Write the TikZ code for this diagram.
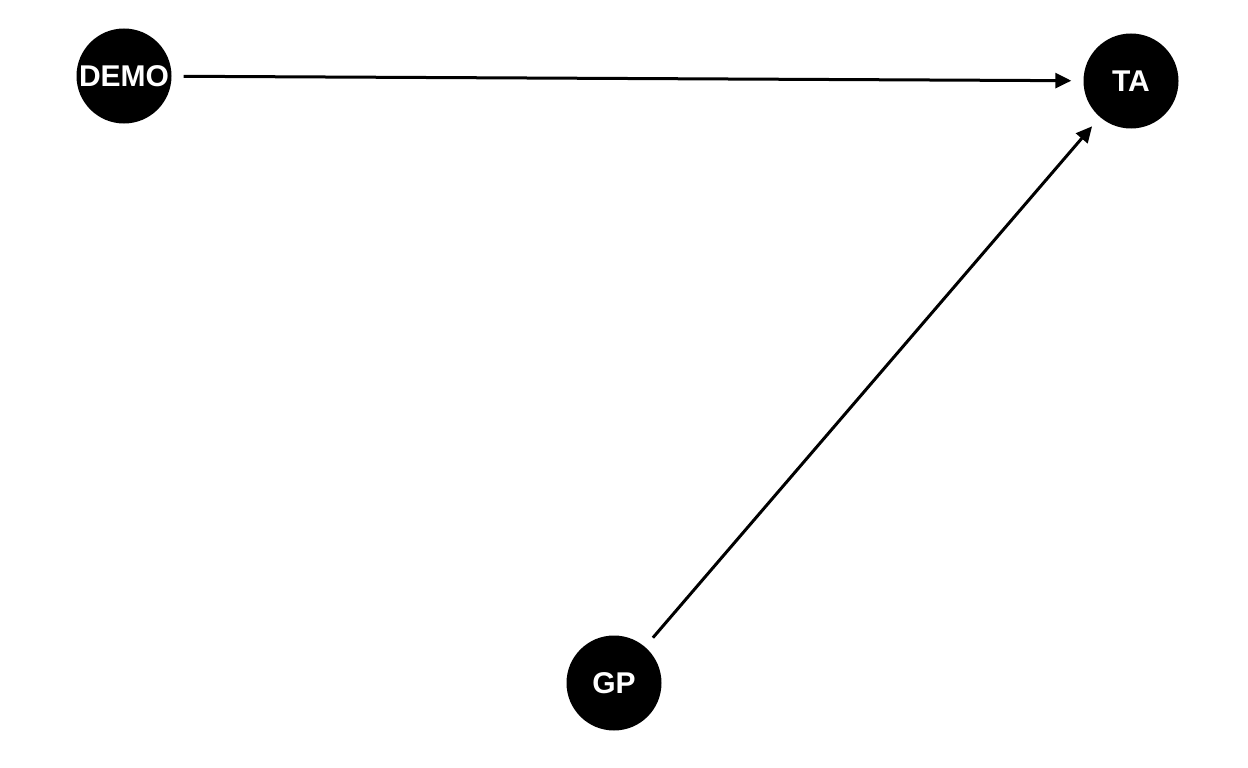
\documentclass[tikz,border=0pt]{standalone}
\usepackage{fontspec}
\setmainfont{Liberation Sans}
\usetikzlibrary{arrows.meta}
\begin{document}
\begin{tikzpicture}[x=1pt,y=-1pt,
  vnode/.style={circle,fill=black,minimum size=95pt,inner sep=0pt,text=white,font=\fontsize{30}{30}\selectfont\bfseries},
  edge/.style={line width=3pt,-{Triangle[length=16pt,width=15pt]},shorten >=12pt,shorten <=12pt}]
\useasboundingbox (0,0) rectangle (1248,768);
\node[vnode] (demo) at (124,76) {DEMO};
\node[vnode] (ta) at (1131,81) {TA};
\node[vnode] (gp) at (614,683) {GP};
\draw[edge] (demo) -- (ta);
\draw[edge] (gp) -- (ta);
\end{tikzpicture}
\end{document}
